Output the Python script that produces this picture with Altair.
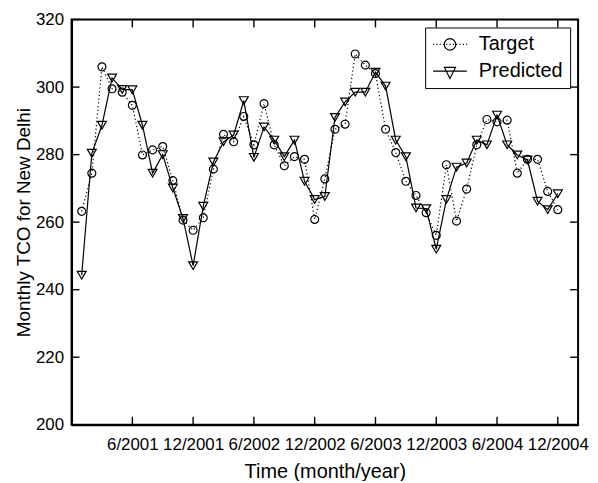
import altair as alt
import pandas as pd

# ---------------- data ----------------
months = list(range(1, 49))  # 1 = Jan 2001 ... 48 = Dec 2004
target = [263.2, 274.5, 306.0, 299.5, 298.5, 294.6, 279.9, 281.4, 282.4, 272.3,
          260.6, 257.6, 261.3, 275.7, 286.0, 283.8, 291.3, 282.9, 295.1, 282.9,
          276.7, 279.4, 278.6, 260.8, 272.8, 287.5, 289.0, 309.8, 306.5, 304.0,
          287.5, 280.6, 272.1, 267.9, 262.8, 256.1, 277.0, 260.3, 269.8, 282.9,
          290.4, 289.7, 290.2, 274.5, 278.6, 278.6, 269.1, 263.7]
predicted = [244.3, 280.4, 288.7, 302.7, 299.3, 299.2, 288.7, 274.5, 280.0, 270.1,
             261.1, 247.1, 264.7, 277.8, 283.8, 285.8, 296.0, 279.2, 288.2, 284.3,
             279.4, 284.3, 272.1, 266.7, 267.6, 291.0, 295.6, 298.5, 298.5, 304.4,
             300.3, 284.3, 279.4, 264.2, 264.0, 252.0, 266.7, 276.3, 277.5, 284.3,
             282.9, 291.7, 282.9, 279.9, 278.4, 266.2, 263.7, 268.4]
tick_months = [6, 12, 18, 24, 30, 36, 42, 48]
tick_labels = ["6/2001", "12/2001", "6/2002", "12/2002",
               "6/2003", "12/2003", "6/2004", "12/2004"]
y_ticks = [200, 220, 240, 260, 280, 300, 320]
x_domain = [0, 50]
y_domain = [200, 320]
series_names = ["Target", "Predicted"]

# ---------------- layout / style ----------------
W, H = 510, 408
FONT = "Liberation Sans"
TICK = 8

df = pd.DataFrame({"month": months, "Target": target, "Predicted": predicted})
xt_df = pd.DataFrame({"tm": tick_months})
yt_df = pd.DataFrame({"tv": y_ticks})

label_expr = ""
for m, lab in zip(tick_months, tick_labels):
    label_expr += f"datum.value == {m} ? '{lab}' : "
label_expr += "''"

xs = alt.Scale(domain=x_domain, nice=False, zero=False)
ys = alt.Scale(domain=y_domain, nice=False, zero=False)

main_x = alt.Axis(orient="bottom", values=tick_months, labelExpr=label_expr,
                  title="Time (month/year)", ticks=False, grid=False,
                  domainColor="black", domainWidth=2,
                  labelFont=FONT, labelFontSize=17, labelColor="black",
                  labelPadding=12, labelOverlap=False, labelFlush=False,
                  titleFont=FONT, titleFontSize=20, titleFontWeight="normal",
                  titleColor="black", titlePadding=9)
main_y = alt.Axis(orient="left", values=y_ticks, title="Monthly TCO for New Delhi",
                  ticks=False, grid=False, domainColor="black", domainWidth=2,
                  labelFont=FONT, labelFontSize=17, labelColor="black",
                  labelPadding=8, titleFont=FONT, titleFontSize=19,
                  titleFontWeight="normal", titleColor="black", titlePadding=2)

target_line = alt.Chart(df).mark_line(
    color="black", strokeWidth=1.2, strokeDash=[1.2, 2.6]
).encode(
    x=alt.X("month:Q", scale=xs, axis=main_x),
    y=alt.Y("Target:Q", scale=ys, axis=main_y),
)
target_pts = alt.Chart(df).mark_point(
    shape="circle", filled=False, color="black", size=64, strokeWidth=1.2, opacity=1
).encode(
    x=alt.X("month:Q", scale=xs),
    y=alt.Y("Target:Q", scale=ys),
)
pred_line = alt.Chart(df).mark_line(color="black", strokeWidth=1.2).encode(
    x=alt.X("month:Q", scale=xs),
    y=alt.Y("Predicted:Q", scale=ys),
)
pred_pts = alt.Chart(df).mark_point(
    shape="triangle-down", filled=False, color="black", size=80, strokeWidth=1.2, opacity=1
).encode(
    x=alt.X("month:Q", scale=xs),
    y=alt.Y("Predicted:Q", scale=ys),
)

# inward ticks on all four sides of the box
tick_style = dict(color="black", thickness=1.4, size=TICK, opacity=1)
ticks_bottom = alt.Chart(xt_df).mark_tick(orient="vertical", yOffset=-TICK / 2, **tick_style).encode(
    x=alt.X("tm:Q", scale=xs), y=alt.datum(y_domain[0], scale=ys))
ticks_top = alt.Chart(xt_df).mark_tick(orient="vertical", yOffset=TICK / 2, **tick_style).encode(
    x=alt.X("tm:Q", scale=xs), y=alt.datum(y_domain[1], scale=ys))
ticks_left = alt.Chart(yt_df).mark_tick(orient="horizontal", xOffset=TICK / 2, **tick_style).encode(
    y=alt.Y("tv:Q", scale=ys), x=alt.datum(x_domain[0], scale=xs))
ticks_right = alt.Chart(yt_df).mark_tick(orient="horizontal", xOffset=-TICK / 2, **tick_style).encode(
    y=alt.Y("tv:Q", scale=ys), x=alt.datum(x_domain[1], scale=xs))

# legend symbols: line sample + marker (unit = 9 px)
x0, x1 = -1.0, -1.0 + 34 / 9
cx = (x0 + x1) / 2
dots = []
x = x0
while x < x1:
    dots.append(f"M{x:.3f},0h0.12")
    x += 0.37
r = 0.64
target_sym = " ".join(dots) + (
    f" M{cx + r:.3f},0 A{r},{r} 0 1,1 {cx - r:.3f},0 A{r},{r} 0 1,1 {cx + r:.3f},0 Z"
)
tw = 0.62
pred_sym = (f"M{x0:.3f},0 H{x1:.3f} M{cx - tw:.3f},-0.42 H{cx + tw:.3f} "
            f"L{cx:.3f},0.82 Z")

legend_df = pd.DataFrame({"series": series_names})
legend_layer = alt.Chart(legend_df).transform_filter("false").mark_point(
    filled=False, color="black", strokeWidth=1.2
).encode(
    shape=alt.Shape(
        "series:N",
        scale=alt.Scale(domain=series_names, range=[target_sym, pred_sym]),
        legend=alt.Legend(
            title=None, orient="top-right", offset=8, padding=7,
            strokeColor="black", fillColor="white",
            labelFont=FONT, labelFontSize=20, labelColor="black",
            labelOffset=27, rowPadding=7, symbolSize=324,
            symbolStrokeWidth=1.2, symbolStrokeColor="black",
            symbolOpacity=1,
        ),
    )
)

chart = alt.layer(
    target_line, target_pts, pred_line, pred_pts,
    ticks_bottom, ticks_top, ticks_left, ticks_right,
    legend_layer
).properties(
    width=W, height=H,
    background="white",
    autosize=alt.AutoSizeParams(type="none"),
    padding={"left": 64, "top": 10, "right": 12, "bottom": 55},
).configure_view(
    stroke="black", strokeWidth=2, strokeOpacity=1
)

chart.save("out.html", embed_options={"renderer": "svg", "actions": False})
